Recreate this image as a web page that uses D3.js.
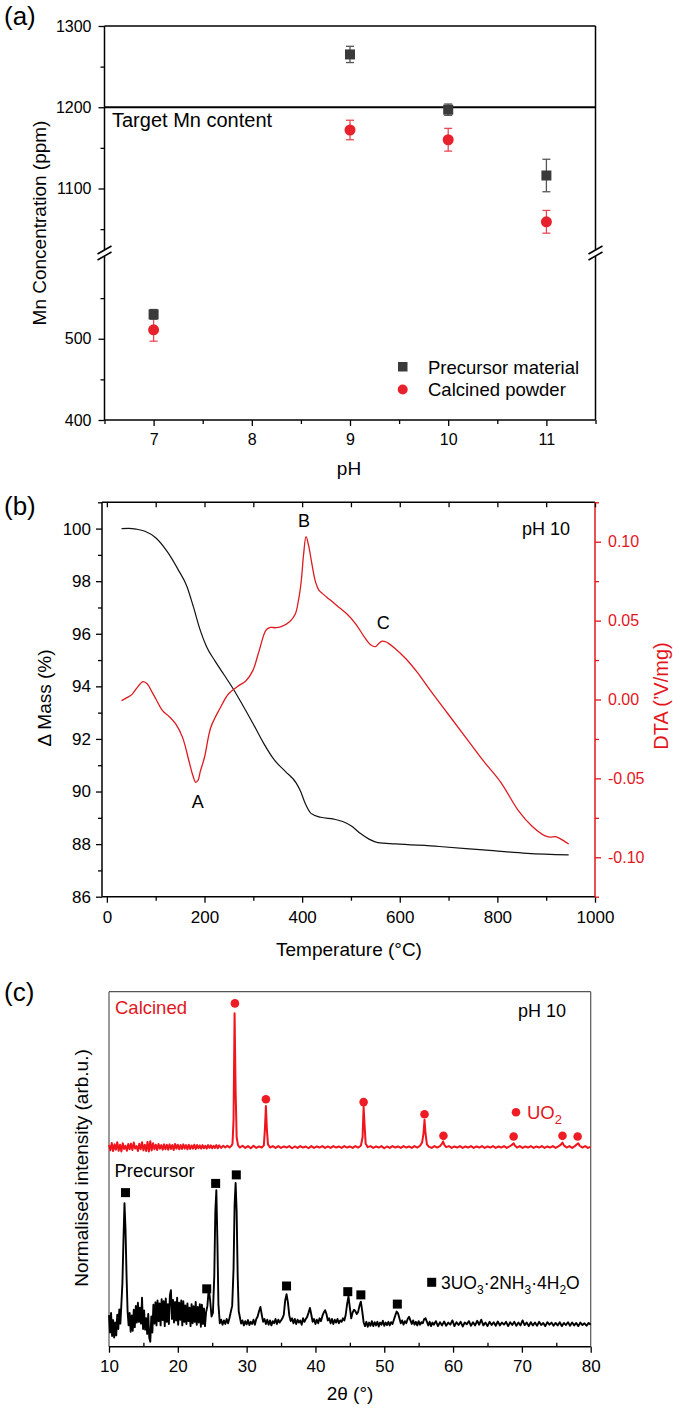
<!DOCTYPE html>
<html><head><meta charset="utf-8">
<script src="https://cdn.jsdelivr.net/npm/d3@7"></script>
<style>
body{margin:0;background:#fff;}
svg{display:block;font-family:"Liberation Sans",Arial,sans-serif;}
</style></head><body>
<svg id="chart" width="685" height="1414"></svg>
<script>
// ---------- Panel (a) data ----------
const phValues = [7, 9, 10, 11];
const precursorMn = [530, 1265, 1197, 1116];
const precursorErr = [6, 10, 7, 20];
const calcinedMn = [511, 1172, 1160, 1059];
const calcinedErr = [14, 12, 14, 14];
const targetMn = 1200;
const phTicks = [7, 8, 9, 10, 11];
const phMinorTicks = [6.5, 7.5, 8.5, 9.5, 10.5, 11.5];
const mnTicksUpper = [1100, 1200, 1300];
const mnMinorUpper = [1050, 1150, 1250];
const mnTicksLower = [400, 500];
const mnMinorLower = [450, 550];
const legendA = ["Precursor material", "Calcined powder"];

// ---------- Panel (b) data ----------
const tgTemp = [30,45,60,78,100,123,146,164,177,191,204,222,240,258,276,299,321,343,366,388,397,406,418,438,465,483,501,519,537,555,591,681,771,861,946];
const tgMass = [100.0,100.01,99.98,99.9,99.65,99.14,98.44,97.8,97.04,96.15,95.52,94.95,94.44,93.93,93.36,92.6,91.84,91.2,90.76,90.32,90.0,89.56,89.17,89.02,88.95,88.86,88.69,88.41,88.19,88.06,88.01,87.91,87.78,87.65,87.59];
const dtaTemp = [30,40,51,62,74,83,92,101,114,128,141,155,168,176,182,187,191,200,213,231,249,267,285,299,312,326,335,346,357,375,386,392,398,403,408,413,420,427,434,443,455,465,478,492,510,528,541,550,557,564,571,577,591,613,636,663,699,735,771,807,843,870,897,908,919,933,946];
const dtaValue = [-0.0007,0.001,0.0031,0.0075,0.0113,0.0098,0.005,0.0,-0.0071,-0.0109,-0.0155,-0.024,-0.0388,-0.048,-0.0525,-0.051,-0.046,-0.0366,-0.0176,-0.006,0.0035,0.0081,0.0119,0.0183,0.031,0.044,0.0457,0.0455,0.0462,0.0495,0.0542,0.062,0.0745,0.092,0.1032,0.098,0.086,0.075,0.0695,0.0668,0.0637,0.0612,0.0578,0.0542,0.0478,0.0394,0.0345,0.0335,0.0355,0.037,0.0366,0.0356,0.0322,0.0257,0.0172,0.0056,-0.0092,-0.024,-0.0388,-0.0525,-0.0704,-0.08,-0.0863,-0.0872,-0.0869,-0.089,-0.0916];
const tempTicks = [0, 200, 400, 600, 800, 1000];
const tempMinor = [100, 300, 500, 700, 900];
const massTicks = [86, 88, 90, 92, 94, 96, 98, 100];
const massMinor = [87, 89, 91, 93, 95, 97, 99, 101];
const dtaTicks = [-0.10, -0.05, 0.00, 0.05, 0.10];
const dtaMinor = [-0.125, -0.075, -0.025, 0.025, 0.075, 0.125];
const peakLabels = [{t:"A", T:182, v:-0.0525}, {t:"B", T:408, v:0.1032}, {t:"C", T:564, v:0.037}];

// ---------- Panel (c) data ----------
const calcinedXRD = [[10.0,56.8],[10.2,55.3],[10.4,57.4],[10.6,55.1],[10.8,57.0],[11.0,55.5],[11.2,57.6],[11.4,55.2],[11.6,56.9],[11.8,55.0],[12.0,57.3],[12.2,55.7],[12.4,56.6],[12.6,55.2],[12.8,57.1],[13.0,55.6],[13.2,57.2],[13.4,55.4],[13.6,57.5],[13.8,55.8],[14.0,56.5],[14.2,55.1],[14.4,57.2],[14.6,55.6],[14.8,57.6],[15.0,55.3],[15.2,56.9],[15.4,55.1],[15.6,57.7],[15.8,55.0],[16.0,57.9],[16.2,55.3],[16.4,57.3],[16.6,55.6],[16.8,56.9],[17.0,55.4],[17.2,57.1],[17.4,55.8],[17.6,56.8],[17.8,55.5],[18.0,57.0],[18.2,55.6],[18.4,56.9],[18.6,55.5],[18.8,57.0],[19.0,55.7],[19.2,56.8],[19.4,55.4],[19.6,57.1],[19.8,55.8],[20.0,56.9],[20.2,55.6],[20.4,56.8],[20.6,55.7],[20.8,57.0],[21.0,55.8],[21.2,56.8],[21.4,55.6],[21.6,56.9],[21.8,55.7],[22.0,56.7],[22.2,55.8],[22.4,56.9],[22.6,55.7],[22.8,56.8],[23.0,55.9],[23.2,56.7],[23.4,55.8],[23.6,56.8],[23.8,55.9],[24.0,56.6],[24.2,55.8],[24.4,56.8],[24.6,56.0],[24.8,56.7],[25.0,55.9],[25.2,56.6],[25.4,56.0],[25.6,56.8],[25.8,55.9],[26.0,56.7],[26.3,56.0],[26.6,56.6],[26.9,56.1],[27.2,56.6],[27.5,56.1],[27.8,56.6],[27.95,57.2],[28.1,64],[28.25,93.9],[28.4,72],[28.55,59],[28.75,56.8],[29.0,56.1],[29.4,56.6],[29.8,56.0],[30.2,56.5],[30.6,55.9],[31.0,56.6],[31.4,56.0],[31.8,56.4],[32.2,56.1],[32.5,56.7],[32.65,61],[32.8,67.8],[32.95,61],[33.1,57.0],[33.4,56.1],[33.8,56.5],[34.2,56.0],[34.6,56.5],[35.0,56.0],[35.4,56.4],[35.8,56.1],[36.2,56.5],[36.6,55.9],[37.0,56.4],[37.4,56.0],[37.8,56.5],[38.2,56.1],[38.6,56.4],[39.0,55.9],[39.4,56.5],[39.8,56.0],[40.2,56.4],[40.6,56.1],[41.0,56.5],[41.4,56.0],[41.8,56.4],[42.2,56.0],[42.6,56.5],[43.0,56.1],[43.4,56.4],[43.8,56.0],[44.2,56.5],[44.6,56.1],[45.0,56.4],[45.4,56.0],[45.8,56.5],[46.2,56.1],[46.6,56.6],[46.85,59],[47.0,67.6],[47.15,62],[47.3,57.2],[47.6,56.2],[48.0,56.5],[48.4,56.0],[48.8,56.4],[49.2,56.1],[49.6,56.5],[50.0,55.9],[50.4,56.4],[50.8,56.0],[51.2,56.5],[51.6,56.1],[52.0,56.4],[52.4,56.0],[52.8,56.5],[53.2,56.1],[53.6,56.4],[54.0,56.0],[54.4,56.5],[54.8,56.1],[55.2,56.6],[55.5,57.5],[55.7,60],[55.85,63.9],[56.0,60],[56.2,57.0],[56.5,56.3],[56.9,56.0],[57.3,56.5],[57.7,56.1],[58.1,56.5],[58.4,57.2],[58.55,57.8],[58.75,56.8],[59.0,56.2],[59.4,56.5],[59.8,56.0],[60.2,56.4],[60.6,56.1],[61.0,56.5],[61.4,56.0],[61.8,56.4],[62.2,56.1],[62.6,56.5],[63.0,56.0],[63.4,56.4],[63.8,56.1],[64.2,56.5],[64.6,56.0],[65.0,56.4],[65.4,56.1],[65.8,56.5],[66.2,56.0],[66.6,56.4],[67.0,56.1],[67.4,56.5],[67.8,56.0],[68.2,56.4],[68.6,56.9],[68.8,57.3],[69.0,56.6],[69.3,56.1],[69.7,56.5],[70.1,56.0],[70.5,56.4],[70.9,56.1],[71.3,56.5],[71.7,56.0],[72.1,56.4],[72.5,56.1],[72.9,56.5],[73.3,56.0],[73.7,56.4],[74.1,56.1],[74.5,56.5],[74.9,56.0],[75.3,56.4],[75.7,57.0],[75.9,57.5],[76.1,56.7],[76.5,56.1],[76.9,56.5],[77.3,56.0],[77.7,56.5],[78.0,57.0],[78.2,57.3],[78.4,56.6],[78.8,56.1],[79.2,56.5],[79.6,56.0],[80.0,56.3]];
const precursorXRD = [[10,8.9],[10.15,4.0],[10.3,9.5],[10.45,3.0],[10.6,7.5],[10.75,2.6],[10.9,6.8],[11.05,3.2],[11.2,9.0],[11.35,5.0],[11.5,10.5],[11.65,6.5],[11.8,12.0],[11.95,18],[12.1,30],[12.25,40.4],[12.4,33],[12.55,20],[12.7,10.0],[12.85,6.0],[13.0,9.5],[13.15,4.2],[13.3,8.8],[13.45,4.5],[13.6,10.4],[13.75,5.5],[13.9,11.5],[14.05,6.8],[14.2,12.4],[14.35,7.0],[14.5,11.0],[14.65,6.5],[14.8,13.8],[14.95,5.0],[15.1,10.2],[15.25,4.8],[15.4,8.0],[15.55,3.6],[15.7,9.2],[15.85,2.5],[16.0,1.4],[16.15,8.5],[16.3,4.0],[16.45,11.8],[16.6,6.5],[16.75,12.5],[16.9,6.0],[17.05,13.0],[17.2,7.2],[17.35,12.2],[17.5,6.0],[17.65,13.4],[17.8,7.5],[17.95,12.8],[18.1,5.8],[18.25,13.6],[18.4,7.0],[18.55,12.0],[18.7,6.4],[18.85,14.5],[19.0,15.9],[19.15,7.8],[19.3,13.2],[19.45,6.8],[19.6,12.6],[19.75,7.4],[19.9,13.8],[20.05,6.2],[20.2,12.4],[20.35,7.6],[20.5,13.0],[20.65,6.0],[20.8,12.8],[20.95,7.0],[21.1,11.6],[21.25,6.4],[21.4,12.2],[21.55,7.2],[21.7,11.0],[21.85,5.8],[22.0,12.0],[22.15,6.6],[22.3,11.4],[22.45,7.0],[22.6,12.6],[22.75,6.2],[22.9,11.2],[23.05,6.8],[23.2,12.0],[23.35,5.6],[23.5,11.8],[23.65,6.4],[23.8,10.8],[23.95,5.8],[24.1,9.6],[24.3,11.5],[24.5,16.4],[24.7,13.0],[24.9,8.5],[25.1,9.5],[25.3,20],[25.45,38],[25.6,44.1],[25.75,30],[25.9,12],[26.1,6.6],[26.3,7.6],[26.5,6.2],[26.7,7.4],[26.9,6.4],[27.1,7.8],[27.3,6.6],[27.5,8.0],[27.7,9.8],[27.9,11.5],[28.1,22],[28.25,40],[28.4,46.1],[28.55,38],[28.7,20],[28.85,10],[29.0,8.5],[29.2,6.5],[29.4,7.4],[29.6,6.0],[29.8,7.2],[30.0,6.3],[30.2,7.5],[30.4,6.1],[30.6,7.0],[30.8,6.4],[31.0,7.6],[31.2,6.2],[31.4,7.8],[31.6,8.5],[31.8,10.0],[32.0,11.2],[32.2,9.0],[32.4,7.0],[32.6,7.8],[32.8,6.4],[33.0,7.6],[33.2,6.2],[33.4,7.4],[33.6,6.0],[33.8,7.2],[34.0,6.6],[34.2,7.8],[34.4,6.4],[34.6,7.6],[34.8,6.8],[35.0,7.4],[35.2,8.0],[35.4,9.0],[35.6,13.0],[35.8,14.8],[36.0,12.5],[36.2,8.8],[36.4,7.2],[36.6,8.0],[36.8,6.6],[37.0,7.8],[37.2,6.4],[37.4,7.6],[37.6,6.8],[37.8,7.4],[38.0,6.2],[38.2,8.0],[38.4,7.0],[38.6,7.8],[38.8,8.4],[39.0,9.6],[39.2,10.9],[39.4,9.0],[39.6,7.0],[39.8,7.8],[40.0,6.4],[40.2,7.6],[40.4,6.6],[40.6,8.0],[40.8,7.2],[41.0,8.6],[41.2,9.6],[41.4,10.3],[41.6,9.2],[41.8,7.4],[42.0,8.0],[42.2,6.6],[42.4,7.8],[42.6,6.4],[42.8,7.6],[43.0,6.8],[43.2,7.8],[43.4,6.6],[43.6,7.4],[43.8,7.0],[44.0,8.0],[44.2,7.4],[44.4,9.0],[44.6,12.0],[44.8,14.2],[45.0,11.0],[45.2,8.0],[45.4,9.6],[45.6,10.4],[45.8,10.0],[46.0,9.2],[46.2,9.8],[46.4,11.5],[46.6,12.7],[46.8,10.0],[47.0,6.9],[47.2,5.8],[47.4,7.0],[47.6,5.6],[47.8,6.8],[48.0,5.9],[48.2,7.2],[48.4,5.8],[48.6,6.9],[48.8,6.0],[49.0,7.0],[49.2,5.7],[49.4,6.8],[49.6,6.2],[49.8,7.3],[50.0,5.9],[50.2,6.8],[50.4,6.1],[50.6,7.0],[50.8,6.0],[51.0,6.9],[51.2,6.4],[51.4,7.6],[51.6,8.8],[51.8,9.9],[52.0,9.4],[52.2,8.0],[52.4,6.6],[52.6,7.4],[52.8,6.2],[53.0,7.2],[53.2,6.6],[53.4,7.8],[53.6,8.4],[53.8,7.4],[54.0,6.4],[54.2,7.4],[54.4,6.2],[54.6,7.0],[54.8,6.0],[55.0,7.2],[55.2,6.2],[55.4,6.9],[55.6,6.6],[55.8,7.8],[56.0,8.0],[56.2,7.0],[56.4,6.0],[56.6,7.0],[56.8,5.8],[57.0,6.8],[57.2,6.2],[57.5,7.2],[57.8,5.8],[58.1,6.9],[58.4,6.0],[58.7,7.1],[59.0,5.9],[59.3,6.8],[59.6,6.2],[59.9,7.4],[60.2,5.8],[60.5,6.9],[60.8,6.1],[61.1,7.0],[61.4,5.7],[61.7,6.8],[62.0,6.3],[62.3,7.2],[62.6,5.9],[62.9,6.9],[63.2,6.0],[63.5,7.3],[63.8,6.2],[64.1,7.6],[64.4,6.0],[64.7,6.8],[65.0,5.8],[65.3,7.0],[65.6,6.1],[65.9,6.9],[66.2,5.9],[66.5,7.1],[66.8,6.0],[67.1,6.8],[67.4,6.2],[67.7,7.0],[68.0,5.8],[68.3,6.9],[68.6,6.1],[68.9,7.0],[69.2,5.9],[69.5,6.8],[69.8,6.0],[70.1,7.4],[70.4,6.1],[70.7,6.8],[71.0,5.8],[71.3,6.9],[71.6,6.0],[71.9,6.8],[72.2,5.9],[72.5,7.0],[72.8,6.1],[73.1,6.7],[73.4,5.8],[73.7,6.9],[74.0,6.2],[74.3,6.8],[74.6,5.9],[74.9,6.7],[75.2,6.0],[75.5,6.9],[75.8,5.8],[76.1,6.7],[76.4,6.1],[76.7,6.9],[77.0,5.9],[77.3,6.8],[77.6,6.0],[77.9,6.7],[78.2,5.8],[78.5,6.8],[78.8,6.1],[79.1,6.6],[79.4,5.9],[79.7,6.7],[80.0,6.2]];
const uo2Peaks = [28.3, 32.8, 47.0, 55.85, 58.6, 68.8, 75.9, 78.1];
const uo2MarkerI = [96.7, 69.7, 68.9, 65.5, 59.4, 59.2, 59.4, 59.2];
const ammPeaks = [12.4, 24.2, 25.5, 28.5, 35.8, 44.7, 46.6, 51.9];
const ammMarkerI = [43.4, 16.3, 46.0, 48.4, 17.1, 15.5, 14.6, 12.0];
const thetaTicks = [10, 20, 30, 40, 50, 60, 70, 80];
const thetaMinor = [15, 25, 35, 45, 55, 65, 75];

// ---------- drawing ----------
const svg = d3.select("#chart");
const FONT = '"Liberation Sans", Arial, sans-serif';
const RED = "#e3161d";
const DARK = "#3a3a3a";
const intFmt = d3.format("d");

function styleAxis(g, size, color) {
  g.attr("font-family", FONT).attr("font-size", size);
  g.selectAll("text").attr("fill", color || "#000");
  g.selectAll("line").attr("stroke", color || "#000").attr("stroke-width", 1.3);
  g.selectAll("path.domain").remove();
}
function line(x1, y1, x2, y2, color, w) {
  svg.append("line").attr("x1", x1).attr("y1", y1).attr("x2", x2).attr("y2", y2)
    .attr("stroke", color || "#000").attr("stroke-width", w || 1.5);
}
function text(str, x, y, size, opts) {
  opts = opts || {};
  const t = svg.append("text").attr("x", x).attr("y", y).attr("font-size", size)
    .attr("fill", opts.color || "#000").attr("text-anchor", opts.anchor || "start").text(str);
  if (opts.rotate) t.attr("transform", `rotate(-90,${x},${y})`);
  return t;
}

// ===== Panel (a) =====
const ax = d3.scaleLinear([6.5, 11.5], [104.5, 595.5]);
const ayU = d3.scaleLinear([1020, 1300], [253.5, 26]);
const ayL = d3.scaleLinear([400, 600], [420, 257.5]);
const ay = v => v >= 800 ? ayU(v) : ayL(v);
const aL = ax.range()[0], aR = ax.range()[1], aT = 26, aB = 420, aBreak = 253;

line(aL, aT, aR, aT);
line(aL, aT, aL, aB);
line(aR, aT, aR, aB);
line(aL, aB, aR, aB);

svg.append("g").attr("transform", `translate(${aL},0)`)
  .call(d3.axisLeft(ayU).tickValues(mnTicksUpper).tickSize(6).tickPadding(7).tickFormat(intFmt))
  .call(g => styleAxis(g, 16));
svg.append("g").attr("transform", `translate(${aL},0)`)
  .call(d3.axisLeft(ayU).tickValues(mnMinorUpper).tickSize(4).tickFormat(""))
  .call(g => styleAxis(g, 16));
svg.append("g").attr("transform", `translate(${aL},0)`)
  .call(d3.axisLeft(ayL).tickValues(mnTicksLower).tickSize(6).tickPadding(7).tickFormat(intFmt))
  .call(g => styleAxis(g, 16));
svg.append("g").attr("transform", `translate(${aL},0)`)
  .call(d3.axisLeft(ayL).tickValues(mnMinorLower).tickSize(4).tickFormat(""))
  .call(g => styleAxis(g, 16));
svg.append("g").attr("transform", `translate(0,${aB})`)
  .call(d3.axisBottom(ax).tickValues(phTicks).tickSize(6).tickPadding(8).tickFormat(intFmt))
  .call(g => styleAxis(g, 16));
svg.append("g").attr("transform", `translate(0,${aB})`)
  .call(d3.axisBottom(ax).tickValues(phMinorTicks).tickSize(4).tickFormat(""))
  .call(g => styleAxis(g, 16));

[aL, aR].forEach(x0 => {
  svg.append("rect").attr("x", x0 - 3).attr("y", aBreak - 3).attr("width", 6).attr("height", 6).attr("fill", "#fff");
  line(x0 - 7, aBreak + 1, x0 + 7, aBreak - 7, "#000", 1.5);
  line(x0 - 7, aBreak + 7, x0 + 7, aBreak - 1, "#000", 1.5);
});

line(aL, ay(targetMn), aR, ay(targetMn), "#000", 2);
text("Target Mn content", 112, 127, 20);

const ptsA = phValues.map((p, i) => ({p, pm: precursorMn[i], pe: precursorErr[i], cm: calcinedMn[i], ce: calcinedErr[i]}));
const gA = svg.append("g");
ptsA.forEach(d => {
  const x = ax(d.p);
  gA.append("line").attr("x1", x).attr("x2", x).attr("y1", ay(d.cm - d.ce)).attr("y2", ay(d.cm + d.ce)).attr("stroke", "#e84a55").attr("stroke-width", 1.3);
  [d.cm - d.ce, d.cm + d.ce].forEach(v => gA.append("line").attr("x1", x - 4).attr("x2", x + 4).attr("y1", ay(v)).attr("y2", ay(v)).attr("stroke", "#e84a55").attr("stroke-width", 1.3));
  gA.append("line").attr("x1", x).attr("x2", x).attr("y1", ay(d.pm - d.pe)).attr("y2", ay(d.pm + d.pe)).attr("stroke", "#555").attr("stroke-width", 1.3);
  [d.pm - d.pe, d.pm + d.pe].forEach(v => gA.append("line").attr("x1", x - 4).attr("x2", x + 4).attr("y1", ay(v)).attr("y2", ay(v)).attr("stroke", "#555").attr("stroke-width", 1.3));
});
ptsA.forEach(d => {
  gA.append("circle").attr("cx", ax(d.p)).attr("cy", ay(d.cm)).attr("r", 5.5).attr("fill", "#e8222c");
});
ptsA.forEach(d => {
  gA.append("rect").attr("x", ax(d.p) - 5).attr("y", ay(d.pm) - 5).attr("width", 10).attr("height", 10).attr("fill", DARK);
});

svg.append("rect").attr("x", 398).attr("y", 362).attr("width", 9.5).attr("height", 9.5).attr("fill", DARK);
text(legendA[0], 428, 373.5, 18.5);
svg.append("circle").attr("cx", 402.7).attr("cy", 389.5).attr("r", 5).attr("fill", "#e8222c");
text(legendA[1], 428, 396, 18.5);

text("Mn Concentration (ppm)", 46, 223, 19, {anchor: "middle", rotate: true});
text("pH", 349, 475, 19, {anchor: "middle"});
text("(a)", 4, 24.5, 26);

// ===== Panel (b) =====
const bx = d3.scaleLinear([-10, 1000], [102, 595]);
const byL = d3.scaleLinear([86, 101], [896.7, 502.3]);
const byR = d3.scaleLinear([-0.125, 0.125], [896.7, 502.3]);
const bL = 102, bR = 595, bT = 502.3, bB = 896.7;

line(bL, bT, bR, bT);
line(bL, bT, bL, bB);
line(bL, bB, bR, bB);
line(bR, bT, bR, bB, RED, 1.5);

svg.append("g").attr("transform", `translate(0,${bB})`)
  .call(d3.axisBottom(bx).tickValues(tempTicks).tickSize(6).tickPadding(8).tickFormat(intFmt))
  .call(g => styleAxis(g, 17));
svg.append("g").attr("transform", `translate(0,${bB})`)
  .call(d3.axisBottom(bx).tickValues(tempMinor).tickSize(4).tickFormat(""))
  .call(g => styleAxis(g, 17));
svg.append("g").attr("transform", `translate(0,${bT})`)
  .call(d3.axisBottom(bx).tickValues(tempTicks.concat(tempMinor)).tickSize(5).tickFormat(""))
  .call(g => styleAxis(g, 17));
svg.append("g").attr("transform", `translate(${bL},0)`)
  .call(d3.axisLeft(byL).tickValues(massTicks).tickSize(6).tickPadding(5).tickFormat(intFmt))
  .call(g => styleAxis(g, 17));
svg.append("g").attr("transform", `translate(${bL},0)`)
  .call(d3.axisLeft(byL).tickValues(massMinor).tickSize(4).tickFormat(""))
  .call(g => styleAxis(g, 17));
svg.append("g").attr("transform", `translate(${bR},0)`)
  .call(d3.axisRight(byR).tickValues(dtaTicks).tickSize(6).tickPadding(7).tickFormat(d => d.toFixed(2)))
  .call(g => styleAxis(g, 16, RED));
svg.append("g").attr("transform", `translate(${bR},0)`)
  .call(d3.axisRight(byR).tickValues(dtaMinor).tickSize(4).tickFormat(""))
  .call(g => styleAxis(g, 16, RED));

const tgLine = d3.line().x((d, i) => bx(tgTemp[i])).y(d => byL(d)).curve(d3.curveMonotoneX);
svg.append("path").attr("d", tgLine(tgMass)).attr("fill", "none").attr("stroke", "#111").attr("stroke-width", 1.2);
const dtaLine = d3.line().x((d, i) => bx(dtaTemp[i])).y(d => byR(d)).curve(d3.curveCatmullRom.alpha(0.5));
svg.append("path").attr("d", dtaLine(dtaValue)).attr("fill", "none").attr("stroke", "#dd1a20").attr("stroke-width", 1.3);

text(peakLabels[0].t, bx(peakLabels[0].T) + 2, byR(peakLabels[0].v) + 26, 18, {anchor: "middle"});
text(peakLabels[1].t, bx(peakLabels[1].T) - 2, byR(peakLabels[1].v) - 10, 18, {anchor: "middle"});
text(peakLabels[2].t, bx(peakLabels[2].T) + 1, byR(peakLabels[2].v) - 12, 18, {anchor: "middle"});
text("pH 10", 570, 535, 18, {anchor: "end"});

text("\u0394 Mass (%)", 51, 698, 19, {anchor: "middle", rotate: true});
text("DTA (\u2019V/mg)", 668, 696, 20, {anchor: "middle", rotate: true, color: RED});
text("Temperature (\u00b0C)", 349, 956, 19, {anchor: "middle"});
text("(b)", 4, 514.5, 26);

// ===== Panel (c) =====
const cx = d3.scaleLinear([10, 80], [109, 590.7]);
const cy = d3.scaleLinear([0, 100], [1346.7, 991.7]);
const cL = 109, cR = 590.7, cT = 991.7, cB = 1346.7;
line(cL, cT, cR, cT, "#555", 1.2);
line(cL, cT, cL, cB, "#555", 1.2);
line(cR, cT, cR, cB, "#555", 1.2);
line(cL, cB, cR, cB, "#000", 1.5);

svg.append("g").attr("transform", `translate(0,${cB})`)
  .call(d3.axisBottom(cx).tickValues(thetaTicks).tickSize(6).tickPadding(7).tickFormat(intFmt))
  .call(g => styleAxis(g, 17));
svg.append("g").attr("transform", `translate(0,${cB})`)
  .call(d3.axisBottom(cx).tickValues(thetaMinor).tickSize(-4).tickFormat(""))
  .call(g => styleAxis(g, 17));

const xrdLine = d3.line().x(d => cx(d[0])).y(d => cy(d[1]));
svg.append("path").attr("d", xrdLine(calcinedXRD)).attr("fill", "none").attr("stroke", "#f0141c").attr("stroke-width", 2).attr("stroke-linejoin", "round");
svg.append("path").attr("d", xrdLine(precursorXRD)).attr("fill", "none").attr("stroke", "#000").attr("stroke-width", 1.9).attr("stroke-linejoin", "round");

uo2Peaks.forEach((p, i) => {
  svg.append("circle").attr("cx", cx(p)).attr("cy", cy(uo2MarkerI[i])).attr("r", 4.3).attr("fill", "#ee1c24");
});
ammPeaks.forEach((p, i) => {
  svg.append("rect").attr("x", cx(p) - 4.5).attr("y", cy(ammMarkerI[i]) - 4.5).attr("width", 9).attr("height", 9).attr("fill", "#000");
});

text("Calcined", 115, 1013.5, 18.5, {color: RED});
text("pH 10", 566, 1017, 18, {anchor: "end"});
text("Precursor", 114.5, 1177, 18.5);

svg.append("circle").attr("cx", 516).attr("cy", 1112.3).attr("r", 4.3).attr("fill", "#ee1c24");
const uo2 = svg.append("text").attr("x", 527).attr("y", 1119).attr("font-size", 18.5).attr("fill", RED);
uo2.append("tspan").text("UO");
uo2.append("tspan").attr("dy", 5).attr("font-size", 13).text("2");

svg.append("rect").attr("x", 427.2).attr("y", 1277.8).attr("width", 9).attr("height", 9).attr("fill", "#000");
const amm = svg.append("text").attr("x", 441).attr("y", 1289).attr("font-size", 17.5).attr("fill", "#000");
[["3UO",0],["3",1],["\u00b72NH",-1],["3",1],["\u00b74H",-1],["2",1],["O",-1]].forEach(([s, sub]) => {
  const t = amm.append("tspan").text(s);
  if (sub === 1) t.attr("dy", 5).attr("font-size", 12);
  if (sub === -1) t.attr("dy", -5);
});

text("Normalised intensity (arb.u.)", 88, 1168, 19, {anchor: "middle", rotate: true});
text("2\u03b8 (\u00b0)", 350, 1400, 19, {anchor: "middle"});
text("(c)", 4, 1001, 26);
</script>
</body></html>
